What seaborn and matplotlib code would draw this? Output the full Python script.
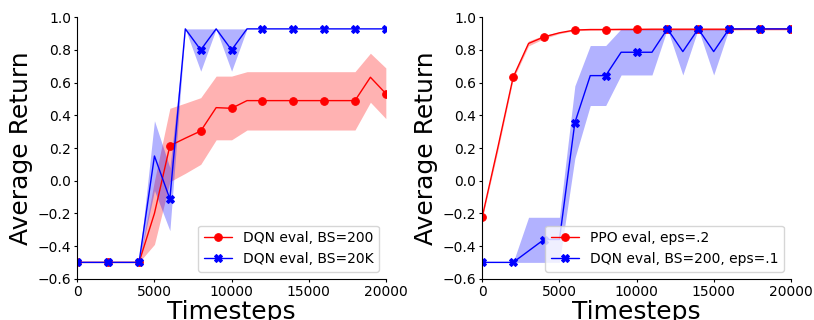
import numpy as np
import pandas as pd
import matplotlib
matplotlib.use("Agg")
import matplotlib.pyplot as plt
import seaborn as sns

sns.set_style("ticks", {"text.color": "black", "axes.labelcolor": "black",
                        "xtick.color": "black", "ytick.color": "black",
                        "axes.edgecolor": "black"})
plt.rcParams["font.family"] = ["DejaVu Sans"]

# timesteps, evaluated every 1000 (markers drawn every 2000)
steps = list(range(0, 21000, 1000))

# left panel: DQN eval, BS=200
dqn200_mean = [-0.5, -0.5, -0.5, -0.5, -0.5, -0.2, 0.214, 0.26, 0.304, 0.447, 0.443,
               0.49, 0.49, 0.49, 0.49, 0.49, 0.49, 0.49, 0.49, 0.633, 0.533]
dqn200_lo = [-0.5, -0.5, -0.5, -0.5, -0.5, -0.39, -0.006, 0.045, 0.10, 0.25, 0.25,
             0.31, 0.31, 0.31, 0.31, 0.31, 0.31, 0.31, 0.31, 0.48, 0.38]
dqn200_hi = [-0.5, -0.5, -0.5, -0.5, -0.5, 0.0, 0.443, 0.475, 0.508, 0.64, 0.64,
             0.667, 0.667, 0.667, 0.667, 0.667, 0.667, 0.667, 0.667, 0.78, 0.69]

# left panel: DQN eval, BS=20K
dqn20k_mean = [-0.5, -0.5, -0.5, -0.5, -0.5, 0.151, -0.112, 0.929, 0.80, 0.929, 0.80,
               0.929, 0.929, 0.929, 0.929, 0.929, 0.929, 0.929, 0.929, 0.929, 0.929]
dqn20k_lo = [-0.5, -0.5, -0.5, -0.5, -0.5, -0.06, -0.306, 0.929, 0.67, 0.929, 0.67,
             0.929, 0.929, 0.929, 0.929, 0.929, 0.929, 0.929, 0.929, 0.929, 0.929]
dqn20k_hi = [-0.5, -0.5, -0.5, -0.5, -0.5, 0.367, 0.08, 0.929, 0.929, 0.929, 0.929,
             0.929, 0.929, 0.929, 0.929, 0.929, 0.929, 0.929, 0.929, 0.929, 0.929]

# right panel: PPO eval, eps=.2
ppo_mean = [-0.22, 0.2, 0.633, 0.84, 0.88, 0.905, 0.922, 0.925, 0.925, 0.926, 0.926,
            0.927, 0.927, 0.927, 0.927, 0.927, 0.927, 0.928, 0.928, 0.928, 0.928]
ppo_lo = [-0.23, 0.18, 0.62, 0.825, 0.87, 0.9, 0.918, 0.92, 0.921, 0.921, 0.921,
          0.921, 0.921, 0.921, 0.921, 0.921, 0.921, 0.922, 0.922, 0.922, 0.922]
ppo_hi = [-0.21, 0.22, 0.645, 0.855, 0.89, 0.91, 0.926, 0.93, 0.93, 0.931, 0.931,
          0.932, 0.932, 0.932, 0.932, 0.932, 0.932, 0.933, 0.933, 0.933, 0.933]

# right panel: DQN eval, BS=200, eps=.1
dqneps_mean = [-0.5, -0.5, -0.5, -0.43, -0.36, -0.36, 0.355, 0.643, 0.643, 0.786, 0.786,
               0.786, 0.929, 0.79, 0.929, 0.79, 0.929, 0.929, 0.929, 0.929, 0.929]
dqneps_lo = [-0.5, -0.5, -0.5, -0.5, -0.5, -0.5, 0.137, 0.46, 0.46, 0.647, 0.647,
             0.647, 0.929, 0.647, 0.929, 0.647, 0.929, 0.929, 0.929, 0.929, 0.929]
dqneps_hi = [-0.5, -0.5, -0.5, -0.224, -0.224, -0.224, 0.58, 0.827, 0.827, 0.929, 0.929,
             0.929, 0.929, 0.929, 0.929, 0.929, 0.929, 0.929, 0.929, 0.929, 0.929]

yticks = [-0.6, -0.4, -0.2, 0.0, 0.2, 0.4, 0.6, 0.8, 1.0]
xticks = [0, 5000, 10000, 15000, 20000]

panels = [
    [("DQN eval, BS=200", dqn200_mean, dqn200_lo, dqn200_hi, "red", "o"),
     ("DQN eval, BS=20K", dqn20k_mean, dqn20k_lo, dqn20k_hi, "blue", "X")],
    [("PPO eval, eps=.2", ppo_mean, ppo_lo, ppo_hi, "red", "o"),
     ("DQN eval, BS=200, eps=.1", dqneps_mean, dqneps_lo, dqneps_hi, "blue", "X")],
]

fig = plt.figure(figsize=(8.14, 3.2), dpi=100)
axes = [fig.add_axes([0.095, 0.129, 0.379, 0.817]),
        fig.add_axes([0.5925, 0.129, 0.379, 0.817])]

for ax, series in zip(axes, panels):
    for label, mean, lo, hi, color, marker in series:
        df = pd.DataFrame({"step": steps, "ret": mean})
        ax.fill_between(steps, lo, hi, color=color, alpha=0.3, linewidth=0)
        sns.lineplot(data=df, x="step", y="ret", ax=ax, color=color, linewidth=1,
                     marker=marker, markersize=5.5, markevery=2,
                     markeredgecolor=color, label=label)
    ax.set_xlim(0, 20000)
    ax.set_ylim(-0.6, 1.0)
    ax.set_xticks(xticks)
    ax.set_yticks(yticks)
    ax.set_yticklabels([f"{v:.1f}".replace("-", "\u2212") for v in yticks])
    ax.tick_params(labelsize=10, length=2.5, pad=2)
    ax.set_xlabel("Timesteps", fontsize=18, labelpad=1)
    ax.set_ylabel("Average Return", fontsize=18, labelpad=3)
    ax.legend(loc="lower right", fontsize=10)
    sns.despine(ax=ax)

plt.savefig("out.png", dpi=100)
plt.close()
